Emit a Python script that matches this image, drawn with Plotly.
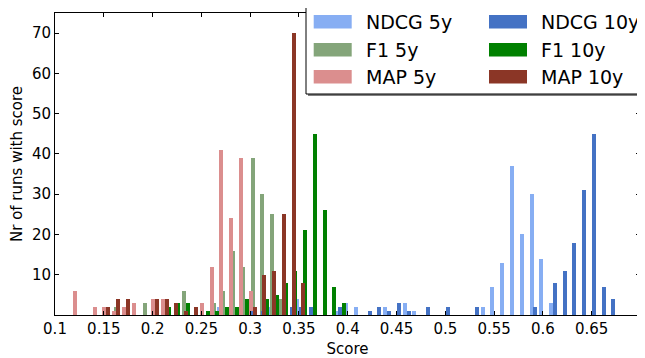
import plotly.graph_objects as go

# ---- data (score bin centre, number of runs) ----
ndcg5_x = [0.2679, 0.2884, 0.2987, 0.3181, 0.3478, 0.3878, 0.3980, 0.4082, 0.4379, 0.4584, 0.4676,
           0.5383, 0.5475, 0.5578, 0.5680, 0.5782, 0.5885, 0.5977, 0.6079]
ndcg5_y = [2, 2, 1, 2, 4, 1, 3, 2, 2, 3, 1, 2, 7, 13, 37, 20, 30, 14, 3]

ndcg10_x = [0.3028, 0.3130, 0.3427, 0.3519, 0.3622, 0.3919, 0.4226, 0.4318, 0.4420, 0.4523, 0.4625,
            0.4820, 0.5025, 0.5322, 0.5916, 0.6120, 0.6223, 0.6315, 0.6417, 0.6520, 0.6622, 0.6714]
ndcg10_y = [1, 1, 2, 2, 2, 2, 1, 2, 1, 3, 1, 2, 2, 2, 2, 8, 11, 18, 31, 45, 7, 4]

f1_5_x = [0.1625, 0.1922, 0.2321, 0.2628, 0.2720, 0.2823, 0.2925, 0.3028, 0.3120, 0.3222, 0.3314]
f1_5_y = [2, 3, 6, 3, 6, 16, 12, 39, 30, 25, 4]

f1_10_x = [0.2167, 0.2260, 0.2362, 0.2567, 0.2659, 0.2761, 0.2864, 0.2966, 0.3171, 0.3273, 0.3366,
           0.3458, 0.3560, 0.3663, 0.3765, 0.3857, 0.3960]
f1_10_y = [2, 3, 3, 1, 1, 2, 2, 4, 4, 5, 8, 11, 21, 45, 26, 7, 3]

map5_x = [0.1205, 0.1410, 0.1502, 0.1604, 0.1707, 0.1809, 0.2004, 0.2106, 0.2505, 0.2608, 0.2700,
          0.2802, 0.2905, 0.3007]
map5_y = [6, 2, 2, 1, 2, 3, 4, 4, 3, 12, 41, 24, 39, 6]

map10_x = [0.1543, 0.1645, 0.1748, 0.2045, 0.2147, 0.2239, 0.2342, 0.2444, 0.3048, 0.3140, 0.3243,
           0.3345, 0.3448, 0.3540]
map10_y = [2, 4, 4, 4, 4, 3, 1, 2, 2, 10, 11, 25, 70, 8]

x_ticks = [0.1, 0.15, 0.2, 0.25, 0.3, 0.35, 0.4, 0.45, 0.5, 0.55, 0.6, 0.65]
x_tick_labels = ["0.1", "0.15", "0.2", "0.25", "0.3", "0.35", "0.4", "0.45", "0.5", "0.55", "0.6", "0.65"]
y_ticks = [10, 20, 30, 40, 50, 60, 70]

# draw order matches the original (legend is column-wise)
series = [
    ("NDCG 5y", ndcg5_x, ndcg5_y, "#87AEF3"),
    ("F1 5y", f1_5_x, f1_5_y, "#84A57A"),
    ("MAP 5y", map5_x, map5_y, "#DB8E8E"),
    ("NDCG 10y", ndcg10_x, ndcg10_y, "#4472C4"),
    ("F1 10y", f1_10_x, f1_10_y, "#008000"),
    ("MAP 10y", map10_x, map10_y, "#8B3626"),
]

FONT = "DejaVu Sans"
OFF = 8                       # default page (body) margin of the html page
WIN_W, WIN_H = 645, 358
W, H = WIN_W - OFF, WIN_H - OFF
# plot area in window pixels: x 55..640, y 13..315
PX0, PX1, PY0, PY1 = 55, 640, 13, 315
ML, MR, MT, MB = PX0 - OFF, WIN_W - PX1, PY0 - OFF, WIN_H - PY1
PW, PH = PX1 - PX0, PY1 - PY0

fig = go.Figure()
for name, xs, ys, col in series:
    fig.add_trace(go.Bar(x=xs, y=ys, name=name, width=0.0041,
                         marker=dict(color=col, line=dict(width=0)),
                         showlegend=False))

def px_x(p):
    return (p - PX0) / PW

def px_y(p):
    return (PY1 - p) / PH

# legend box (drawn manually to mimic matplotlib's wide patches)
shapes = []
annotations = []
lx0, lx1, ly0, ly1 = 306, 642, 7, 94
shapes.append(dict(type="rect", xref="paper", yref="paper", layer="above",
                   x0=px_x(lx0 + 2), x1=px_x(lx1 + 2), y0=px_y(ly1 + 2), y1=px_y(ly0 + 2),
                   fillcolor="#808080", line=dict(width=0)))
shapes.append(dict(type="rect", xref="paper", yref="paper", layer="above",
                   x0=px_x(lx0), x1=px_x(lx1), y0=px_y(ly1), y1=px_y(ly0),
                   fillcolor="white", line=dict(color="black", width=1)))
legend_order = [("NDCG 5y", 0, 0), ("F1 5y", 0, 1), ("MAP 5y", 0, 2),
                ("NDCG 10y", 1, 0), ("F1 10y", 1, 1), ("MAP 10y", 1, 2)]
colors = {n: c for n, _, _, c in series}
col_patch_x = [313.7, 489.0]
col_text_x = [364.0, 539.0]
row_y = [21.7, 49.7, 76.7]
for name, c, r in legend_order:
    shapes.append(dict(type="rect", xref="paper", yref="paper", layer="above",
                       x0=px_x(col_patch_x[c]), x1=px_x(col_patch_x[c] + 38),
                       y0=px_y(row_y[r] + 6.7), y1=px_y(row_y[r] - 6.7),
                       fillcolor=colors[name], line=dict(width=0)))
    annotations.append(dict(xref="paper", yref="paper", x=px_x(col_text_x[c]), y=px_y(row_y[r]),
                            text=name, showarrow=False, xanchor="left", yanchor="middle",
                            font=dict(family=FONT, size=19, color="black")))

fig.update_layout(
    width=W, height=H,
    margin=dict(l=ML, r=MR, t=MT, b=MB, autoexpand=False),
    paper_bgcolor="white", plot_bgcolor="white",
    barmode="overlay", bargap=0,
    font=dict(family=FONT, size=15, color="black"),
    shapes=shapes, annotations=annotations,
    showlegend=False,
)
fig.update_xaxes(range=[0.1, 0.6995], tickvals=x_ticks, ticktext=x_tick_labels,
                 ticks="inside", ticklen=4, tickcolor="black", tickwidth=1,
                 showline=True, linecolor="black", linewidth=1, mirror="allticks",
                 showgrid=False, zeroline=False, automargin=False,
                 title=dict(text="Score", font=dict(family=FONT, size=15), standoff=8),
                 tickfont=dict(family=FONT, size=15))
fig.update_yaxes(range=[0, 75], tickvals=y_ticks,
                 ticks="inside", ticklen=4, tickcolor="black", tickwidth=1,
                 showline=True, linecolor="black", linewidth=1, mirror="allticks",
                 showgrid=False, zeroline=False, automargin=False,
                 title=dict(text="Nr of runs with score", font=dict(family=FONT, size=15), standoff=10),
                 tickfont=dict(family=FONT, size=15))

fig.write_html("out.html")
